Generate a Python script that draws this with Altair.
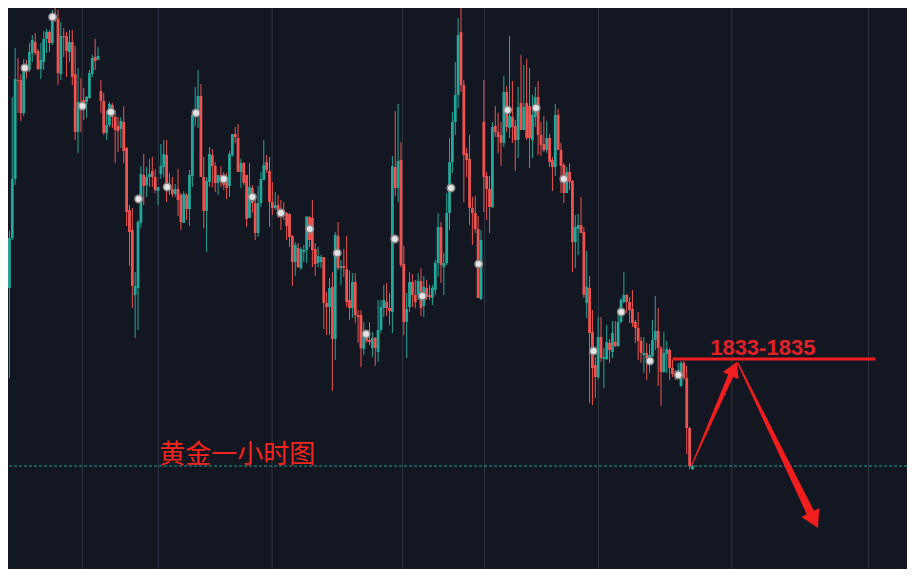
import altair as alt
import pandas as pd

# ---- Candle data (hourly gold), prices ----
opens = [1846.2,1841.2,1846.2,1852.1,1862.0,1862.0,1858.7,1863.5,1863.0,1864.7,
1865.8,1864.9,1863.1,1863.8,1866.1,1866.8,1865.7,1868.5,1868.1,1862.6,
1866.4,1866.4,1864.8,1865.8,1862.6,1856.8,1859.8,1860.0,1859.8,1860.2,
1862.6,1864.3,1864.0,1860.9,1859.9,1856.7,1857.5,1859.5,1858.3,1857.4,
1857.1,1857.8,1855.2,1849.0,1847.0,1840.5,1841.2,1847.7,1852.5,1851.5,
1852.3,1852.9,1852.3,1850.9,1852.6,1853.3,1854.5,1851.6,1851.1,1850.6,
1851.1,1850.5,1847.7,1850.5,1849.1,1852.4,1858.5,1858.5,1860.4,1852.3,
1848.9,1851.8,1854.5,1853.4,1851.7,1852.5,1852.0,1852.0,1851.4,1854.5,
1856.6,1856.2,1852.8,1853.7,1852.5,1848.2,1851.2,1849.7,1846.7,1849.7,
1852.0,1853.8,1852.9,1849.8,1849.2,1849.5,1849.0,1848.8,1848.7,1848.6,
1846.4,1843.8,1845.2,1843.2,1844.8,1845.0,1848.3,1848.2,1845.1,1843.7,
1843.8,1844.3,1839.7,1839.3,1841.3,1836.1,1846.4,1843.2,1843.4,1843.1,
1840.0,1839.2,1841.8,1838.5,1838.5,1835.1,1836.2,1836.0,1835.2,1836.2,
1834.8,1837.0,1839.2,1839.8,1839.2,1838.8,1853.3,1851.2,1854.0,1843.6,
1837.8,1839.3,1841.8,1840.5,1840.5,1841.9,1839.4,1841.2,1840.5,1840.2,
1841.0,1843.7,1847.3,1843.3,1843.7,1848.7,1853.8,1857.8,1860.5,1866.8,
1861.5,1854.7,1854.1,1849.2,1848.7,1847.1,1840.1,1857.8,1852.4,1851.1,
1849.3,1857.4,1856.8,1856.5,1855.7,1860.8,1857.2,1858.3,1857.4,1856.0,
1859.7,1857.0,1859.7,1859.4,1856.0,1858.3,1860.3,1856.5,1855.6,1855.0,
1856.2,1854.0,1853.3,1858.5,1855.0,1853.5,1850.7,1852.8,1851.9,1845.8,
1847.1,1847.5,1846.8,1839.7,1841.2,1836.8,1833.5,1832.3,1836.3,1834.1,
1834.1,1835.7,1834.8,1835.8,1835.4,1837.8,1839.8,1840.5,1839.8,1839.1,
1837.8,1837.2,1835.9,1834.5,1834.7,1834.2,1834.4,1836.0,1836.9,1835.2,
1832.8,1834.6,1835.0,1833.2,1832.7,1832.6,1831.4,1833.7,1832.2,1827.2,
1823.1]
closes = [1841.2,1846.2,1852.1,1862.1,1861.9,1858.7,1863.5,1863.0,1864.8,1866.0,
1864.7,1863.1,1864.0,1866.1,1866.8,1865.7,1868.5,1868.1,1862.7,1866.4,
1866.3,1864.9,1865.8,1862.3,1856.8,1859.8,1859.4,1859.3,1860.3,1862.7,
1864.2,1863.9,1864.4,1859.9,1856.7,1857.5,1859.6,1858.3,1857.0,1856.9,
1857.9,1854.9,1848.8,1846.8,1841.4,1841.4,1847.8,1852.6,1851.4,1852.3,
1852.6,1852.3,1851.0,1851.3,1853.4,1854.6,1851.6,1851.1,1850.6,1851.1,
1850.0,1847.8,1850.6,1849.1,1852.5,1858.5,1858.8,1860.4,1852.3,1848.9,
1851.9,1854.6,1853.4,1851.7,1852.5,1851.9,1851.5,1851.2,1854.6,1856.6,
1856.3,1852.8,1853.7,1851.7,1848.1,1851.3,1849.7,1846.7,1849.7,1852.1,
1853.5,1853.0,1849.8,1849.2,1849.5,1849.0,1848.7,1848.6,1847.4,1846.3,
1843.8,1845.5,1843.3,1845.1,1845.0,1848.3,1846.0,1845.0,1843.6,1844.4,
1844.3,1839.7,1839.3,1841.2,1836.1,1846.5,1843.2,1843.4,1843.2,1839.8,
1839.2,1841.8,1838.5,1838.3,1835.2,1836.5,1835.9,1835.8,1836.2,1835.2,
1837.0,1839.3,1840.0,1839.2,1838.9,1853.4,1851.2,1853.9,1843.5,1837.8,
1839.1,1841.8,1840.5,1839.8,1841.9,1839.2,1841.3,1840.3,1840.3,1841.2,
1843.7,1847.3,1843.5,1843.7,1848.7,1853.8,1857.8,1860.5,1866.5,1861.5,
1854.5,1854.0,1849.2,1848.7,1847.1,1840.2,1846.0,1852.3,1851.1,1849.3,
1857.3,1856.8,1856.3,1855.7,1860.8,1857.3,1858.4,1857.3,1856.0,1859.3,
1857.0,1859.3,1856.2,1856.2,1858.5,1860.3,1856.5,1855.5,1855.0,1856.2,
1853.8,1853.3,1858.5,1855.0,1853.4,1850.7,1852.8,1851.8,1845.8,1847.3,
1847.5,1846.7,1840.5,1841.3,1836.7,1833.2,1832.3,1836.3,1834.2,1834.3,
1835.8,1835.0,1836.7,1835.4,1837.8,1840.0,1840.5,1839.8,1839.0,1837.7,
1837.2,1835.9,1834.7,1834.7,1834.2,1834.5,1836.0,1836.9,1835.2,1832.8,
1834.7,1835.1,1833.2,1832.6,1832.5,1833.0,1833.7,1832.2,1827.2,1823.4,
1823.4]
highs = [1846.8,1846.9,1860.3,1865.2,1864.2,1862.6,1864.1,1864.0,1865.7,1866.5,
1866.7,1865.1,1865.7,1866.9,1867.1,1867.0,1869.0,1869.3,1869.0,1867.8,
1867.2,1866.8,1867.0,1867.0,1865.4,1863.2,1862.2,1861.2,1860.4,1863.0,
1864.5,1866.1,1865.3,1862.0,1860.7,1858.9,1859.8,1859.7,1859.0,1858.3,
1858.3,1859.4,1855.3,1849.5,1849.2,1842.8,1848.0,1853.4,1854.6,1853.3,
1854.1,1854.3,1853.1,1851.3,1855.6,1856.0,1856.0,1852.7,1852.3,1851.6,
1853.1,1850.7,1850.9,1850.7,1853.0,1859.0,1861.3,1863.0,1861.6,1854.3,
1852.3,1855.3,1855.1,1853.8,1852.5,1853.4,1852.8,1852.7,1854.9,1856.6,
1857.3,1857.6,1854.1,1853.8,1852.5,1853.7,1851.5,1850.0,1851.4,1852.8,
1856.0,1854.5,1854.3,1851.8,1850.8,1850.5,1850.0,1849.8,1848.8,1848.7,
1846.5,1845.8,1845.7,1845.3,1845.5,1848.4,1848.4,1850.0,1845.7,1845.3,
1844.5,1844.3,1840.8,1842.2,1842.8,1846.8,1847.8,1844.0,1845.1,1846.4,
1842.9,1842.7,1842.7,1839.0,1839.0,1837.8,1837.0,1837.8,1836.8,1836.3,
1840.0,1840.0,1841.5,1841.7,1840.7,1854.4,1858.9,1859.6,1855.8,1845.4,
1840.7,1842.8,1842.6,1842.0,1842.7,1843.2,1842.4,1842.0,1841.5,1841.5,
1844.0,1848.7,1847.8,1844.7,1850.7,1856.2,1858.8,1863.8,1868.2,1869.7,
1862.0,1855.2,1856.5,1850.3,1850.4,1848.4,1847.0,1862.0,1852.8,1852.4,
1857.8,1859.4,1858.7,1857.8,1862.4,1861.4,1866.4,1861.9,1858.0,1861.3,
1864.5,1863.5,1864.1,1863.2,1860.5,1861.3,1861.9,1857.8,1858.4,1857.9,
1856.6,1854.3,1859.6,1859.1,1855.7,1853.7,1853.3,1853.7,1852.0,1848.5,
1848.6,1850.3,1847.3,1844.9,1842.4,1839.0,1834.3,1838.3,1838.3,1835.2,
1837.5,1836.1,1837.9,1837.9,1838.8,1840.2,1842.8,1840.6,1840.3,1841.0,
1838.0,1838.8,1836.3,1836.3,1835.7,1835.6,1838.0,1840.4,1839.2,1835.4,
1836.8,1835.9,1835.2,1834.0,1833.0,1833.7,1833.9,1833.9,1833.4,1827.3,
1823.6]
lows = [1840.5,1832.2,1846.0,1851.5,1858.7,1857.9,1858.4,1862.2,1862.8,1863.8,
1864.5,1863.0,1862.1,1863.0,1864.7,1864.8,1865.5,1867.8,1861.5,1862.0,
1864.3,1862.3,1863.8,1861.5,1856.0,1854.7,1856.8,1858.0,1858.2,1860.1,
1862.3,1863.0,1864.0,1858.7,1856.5,1856.0,1857.3,1857.2,1853.7,1854.8,
1855.2,1853.7,1847.4,1843.4,1839.2,1836.2,1837.0,1847.2,1849.5,1850.3,
1851.3,1851.3,1850.7,1849.5,1852.1,1852.3,1849.8,1850.5,1850.3,1850.3,
1848.4,1847.0,1847.7,1848.0,1847.4,1851.3,1857.4,1857.2,1852.3,1847.2,
1844.8,1851.3,1851.3,1850.8,1850.5,1851.3,1851.0,1850.1,1850.3,1854.3,
1855.7,1852.8,1851.2,1851.5,1847.3,1848.2,1848.7,1846.0,1846.3,1849.3,
1852.0,1852.7,1847.3,1848.5,1849.0,1848.2,1847.0,1848.0,1846.0,1845.3,
1841.4,1842.4,1843.2,1843.0,1843.8,1843.7,1845.3,1843.3,1842.4,1843.3,
1843.2,1837.1,1836.5,1836.5,1830.9,1834.0,1843.0,1841.5,1842.3,1839.3,
1838.0,1838.2,1837.7,1835.7,1833.3,1834.5,1835.7,1835.5,1834.3,1833.4,
1833.8,1836.7,1838.3,1838.4,1837.5,1836.7,1850.4,1849.8,1843.3,1836.5,
1834.2,1838.8,1839.3,1839.2,1840.0,1838.4,1838.3,1840.0,1840.0,1839.5,
1840.5,1842.3,1841.7,1840.5,1843.5,1847.0,1852.7,1856.5,1859.2,1860.8,
1849.8,1852.3,1847.5,1845.5,1846.7,1840.2,1840.0,1848.8,1848.0,1846.7,
1849.2,1856.3,1854.7,1853.4,1855.3,1856.8,1856.2,1855.7,1852.9,1854.2,
1857.0,1857.0,1856.0,1853.2,1854.2,1857.3,1854.5,1854.4,1854.8,1854.7,
1853.3,1850.9,1852.4,1855.0,1850.7,1849.7,1850.7,1851.0,1842.8,1843.2,
1844.5,1846.7,1840.2,1838.2,1829.7,1829.5,1830.2,1832.1,1833.8,1831.2,
1834.0,1833.7,1834.2,1835.3,1835.3,1837.7,1839.7,1838.7,1837.7,1837.3,
1835.7,1834.0,1833.7,1832.7,1832.0,1832.7,1834.3,1835.0,1831.4,1829.4,
1832.7,1832.7,1832.0,1832.3,1832.0,1832.3,1831.3,1832.0,1824.6,1823.1,
1823.0]

# indicator dots (bar position, price)
dot_bar = [6.4,16.1,26.5,36.5,46.2,56.2,66.3,76.0,86.0,96.0,106.1,115.7,
           125.8,135.8,145.5,155.5,165.2,175.3,185.3,195.0,205.4,215.1,225.1,235.1]
dot_price = [1863.2,1868.3,1859.4,1858.8,1850.1,1851.3,1858.7,1852.1,1850.3,1848.7,
             1847.1,1844.7,1836.6,1846.1,1840.4,1851.2,1843.6,1859.0,1859.2,1852.1,
             1834.9,1838.8,1833.9,1832.5]

# time grid (bar positions of vertical grid lines)
grid_bars = [26.47,53.11,92.91,138.58,167.30,207.09,253.81,301.56]

current_price = 1823.4
zone_price = 1834.1
zone_start, zone_end = 233.0, 304.0
zone_label = "1833-1835"
title_text = "黄金一小时图"

# arrows: shaft points (bar, price, width) and heads
arrow_id = ["up", "up", "down", "down"]
arrow_bar = [239.6, 253.4, 255.88, 281.25]
arrow_price = [1823.4, 1832.43, 1833.7, 1818.75]
arrow_width = [1.0, 5.5, 1.5, 8.0]
head_bar = [254.47, 282.59]
head_price = [1833.12, 1817.97]
head_angle = [24.3, 153.6]
head_size = [300, 400]

GREEN = "#26a69a"
RED = "#ef5350"
BG = "#131722"
ANN = "#f01e1e"

n = len(closes)
candles = pd.DataFrame({
    "i": list(range(n)),
    "open": opens, "close": closes, "high": highs, "low": lows,
})
candles["dir"] = ["up" if c >= o else "down" for o, c in zip(opens, closes)]

xs = alt.Scale(domain=[2.249, 313.32], nice=False, zero=False)
ys = alt.Scale(domain=[1813.1, 1869.2], nice=False, zero=False)
col = alt.Color("dir:N", scale=alt.Scale(domain=["up", "down"], range=[GREEN, RED]), legend=None)

grid = alt.Chart(pd.DataFrame({"g": grid_bars})).mark_rule(
    color="#323644", strokeWidth=1
).encode(x=alt.X("g:Q", scale=xs, axis=None))

cur = alt.Chart(pd.DataFrame({"p": [current_price]})).mark_rule(
    color="#1fa595", strokeWidth=1, strokeDash=[3, 2]
).encode(y=alt.Y("p:Q", scale=ys, axis=None))

base = alt.Chart(candles)
wicks = base.mark_rule(strokeWidth=1).encode(
    x=alt.X("i:Q", scale=xs, axis=None),
    y=alt.Y("low:Q", scale=ys, axis=None), y2="high:Q", color=col)
bodies = base.mark_bar(size=2.8).encode(
    x=alt.X("i:Q", scale=xs, axis=None),
    y=alt.Y("open:Q", scale=ys, axis=None), y2="close:Q", color=col)

dots = alt.Chart(pd.DataFrame({"b": dot_bar, "p": dot_price})).mark_point(
    shape="circle", filled=True, size=56, fill="#e4e4e4", stroke="#8a8a8a",
    strokeWidth=1.5, opacity=1
).encode(x=alt.X("b:Q", scale=xs, axis=None), y=alt.Y("p:Q", scale=ys, axis=None))

zone = alt.Chart(pd.DataFrame({"a": [zone_start], "b": [zone_end], "p": [zone_price]})).mark_rule(
    color=ANN, strokeWidth=3
).encode(x=alt.X("a:Q", scale=xs, axis=None), x2="b:Q", y=alt.Y("p:Q", scale=ys, axis=None))

zone_txt = alt.Chart(pd.DataFrame({"b": [264.6], "p": [1834.5], "t": [zone_label]})).mark_text(
    color="#e02228", font="Liberation Sans", fontWeight="bold", fontSize=22,
    align="center", baseline="alphabetic"
).encode(x=alt.X("b:Q", scale=xs, axis=None), y=alt.Y("p:Q", scale=ys, axis=None), text="t:N")

title = alt.Chart(pd.DataFrame({"b": [53.4], "p": [1823.7], "t": [title_text]})).mark_text(
    color="#f5251c", font="Noto Sans CJK SC", fontSize=26,
    align="left", baseline="alphabetic"
).encode(x=alt.X("b:Q", scale=xs, axis=None), y=alt.Y("p:Q", scale=ys, axis=None), text="t:N")

arrows = alt.Chart(pd.DataFrame({
    "id": arrow_id, "b": arrow_bar, "p": arrow_price, "w": arrow_width,
    "o": [0, 1, 0, 1]})).mark_trail(color=ANN).encode(
    x=alt.X("b:Q", scale=xs, axis=None), y=alt.Y("p:Q", scale=ys, axis=None),
    size=alt.Size("w:Q", scale=None, legend=None), detail="id:N", order="o:Q")

heads = alt.Chart(pd.DataFrame({"b": head_bar, "p": head_price, "a": head_angle, "s": head_size})).mark_point(
    shape="triangle-up", filled=True, color=ANN, opacity=1
).encode(
    x=alt.X("b:Q", scale=xs, axis=None), y=alt.Y("p:Q", scale=ys, axis=None),
    angle=alt.Angle("a:Q", scale=None), size=alt.Size("s:Q", scale=None, legend=None))

chart = alt.layer(grid, cur, wicks, bodies, dots, zone, zone_txt, title, arrows, heads).properties(
    width=899, height=561,
    autosize=alt.AutoSizeParams(type="fit", contains="padding"),
    padding=0, background=BG
).configure_view(stroke=None, clip=True)

chart.save("out.html", embed_options={"renderer": "svg", "actions": False})
